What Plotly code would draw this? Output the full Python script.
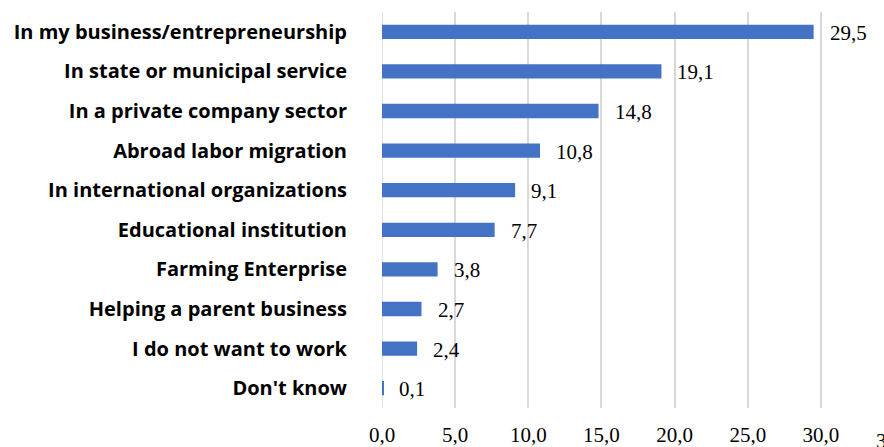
import plotly.graph_objects as go

# Survey answers (top to bottom) and their shares, %
categories = [
    "In my business/entrepreneurship",
    "In state or municipal service",
    "In a private company sector",
    "Abroad labor migration",
    "In international organizations",
    "Educational institution",
    "Farming Enterprise",
    "Helping a parent business",
    "I do not want to work",
    "Don't know",
]
values = [29.5, 19.1, 14.8, 10.8, 9.1, 7.7, 3.8, 2.7, 2.4, 0.1]

tick_values = [0, 5, 10, 15, 20, 25, 30, 35]
tick_labels = ["0,0", "5,0", "10,0", "15,0", "20,0", "25,0", "30,0", "35,0"]

X_MAX = 34.31  # visible end of the value axis

BAR_COLOR = "#4472C4"
GRID_COLOR = "#D9D9D9"
SERIF = "Liberation Serif, Times New Roman, serif"
SANS = "Open Sans, sans-serif"


def comma(v):
    return f"{v:.1f}".replace(".", ",")


fig = go.Figure(
    go.Bar(
        x=values,
        y=categories,
        orientation="h",
        width=0.36,
        marker=dict(color=BAR_COLOR, line=dict(width=0)),
        hoverinfo="skip",
    )
)

# value labels to the right of each bar
annotations = [
    dict(
        x=v, y=c, xref="x", yref="y",
        text=comma(v), showarrow=False,
        xanchor="left", yanchor="middle", xshift=14, yshift=-1,
        font=dict(family=SERIF, size=21, color="#000000"),
    )
    for c, v in zip(categories, values)
]

# last tick label sits beyond the visible right edge
annotations.append(
    dict(
        x=tick_values[-1] / X_MAX, y=0, xref="paper", yref="paper",
        text=tick_labels[-1], showarrow=False,
        xanchor="center", yanchor="top", yshift=-19,
        font=dict(family=SERIF, size=21, color="#000000"),
    )
)

fig.update_layout(
    width=884,
    height=447,
    margin=dict(l=382, r=0, t=12, b=39, autoexpand=False),
    paper_bgcolor="white",
    plot_bgcolor="white",
    showlegend=False,
    annotations=annotations,
    xaxis=dict(
        range=[0, X_MAX],
        tickvals=tick_values[:-1],
        ticktext=tick_labels[:-1],
        showgrid=True,
        gridcolor=GRID_COLOR,
        gridwidth=1.5,
        zeroline=False,
        showline=False,
        ticks="",
        ticklabelstandoff=12,
        tickfont=dict(family=SERIF, size=21, color="#000000"),
        fixedrange=True,
    ),
    yaxis=dict(
        autorange="reversed",
        showgrid=False,
        zeroline=False,
        showline=False,
        ticks="",
        ticklabelstandoff=34,
        tickfont=dict(family=SANS, size=20, color="#000000", weight="bold"),
        fixedrange=True,
    ),
)

# the gridline at zero doubles as the category axis line
fig.add_shape(
    type="line", xref="x", yref="paper",
    x0=0, x1=0, y0=0, y1=1,
    line=dict(color=GRID_COLOR, width=1.5),
    layer="below",
)

fig.write_html("out.html", config={"displayModeBar": False})
